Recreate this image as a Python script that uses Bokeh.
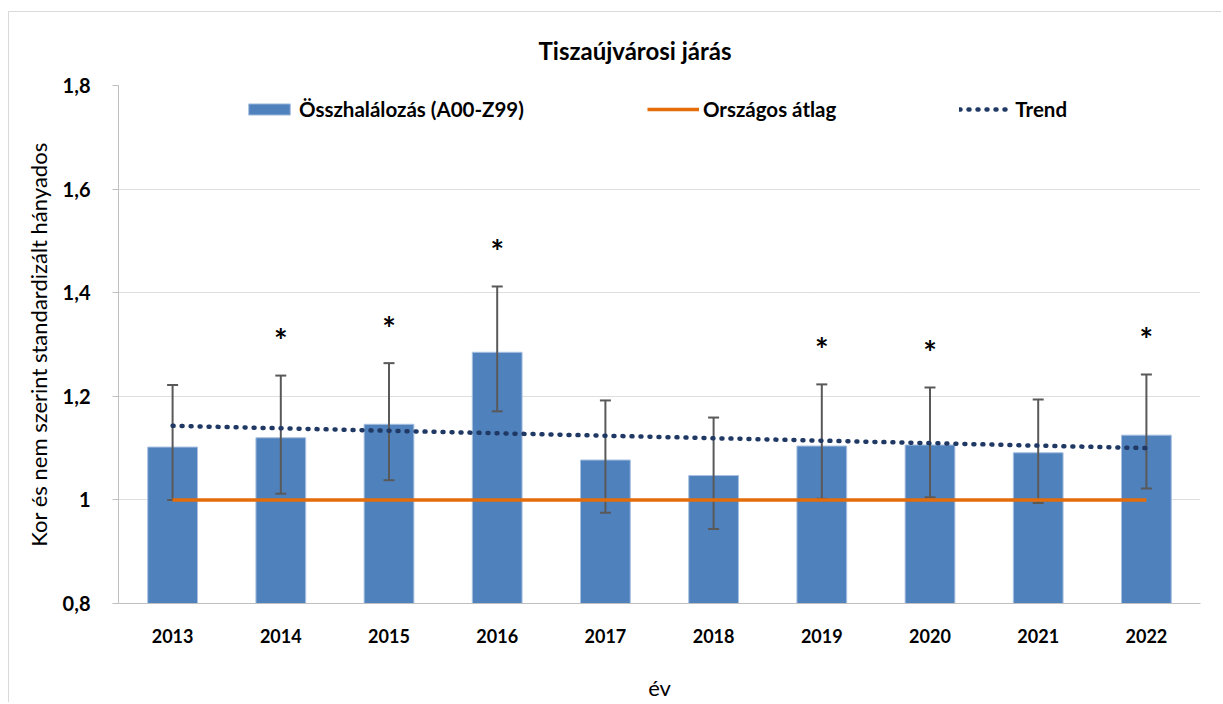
from bokeh.plotting import figure
from bokeh.models import (ColumnDataSource, Legend, LegendItem,
                          FixedTicker, CustomJSTickFormatter)
from bokeh.embed import file_html
from bokeh.resources import INLINE
from bokeh.core.properties import value

# ---- data ----
years = ["2013", "2014", "2015", "2016", "2017", "2018", "2019", "2020", "2021", "2022"]
values = [1.102, 1.120, 1.146, 1.285, 1.077, 1.047, 1.104, 1.106, 1.091, 1.125]
upper = [1.222, 1.240, 1.264, 1.412, 1.192, 1.159, 1.223, 1.217, 1.194, 1.242]
lower = [1.000, 1.012, 1.038, 1.171, 0.975, 0.944, 1.002, 1.005, 0.994, 1.022]
significant = [False, True, True, True, False, False, True, True, False, True]
national_avg = [1.0] * 10
trend_years = ["2013", "2022"]
trend_values = [1.143, 1.100]
y_ticks = [0.8, 1.0, 1.2, 1.4, 1.6, 1.8]

title_text = "Tiszaújvárosi járás"
y_label = "Kor és nem szerint standardizált hányados"
x_label = "év"
legend_labels = ["Összhalálozás (A00-Z99)", "Országos átlag", "Trend"]

FONT = "Lato"

p = figure(x_range=years, y_range=(0.8, 1.8), width=1213, height=691,
           output_backend="svg", toolbar_location=None,
           min_border_left=109, min_border_right=22,
           min_border_top=73, min_border_bottom=95)
p.outline_line_color = None
p.styles = {"margin-left": "8px", "margin-top": "11px",
            "border-left": "1px solid #D9D9D9", "border-top": "1px solid #D9D9D9"}

p.title.text = title_text
p.title.align = "left"
p.title.offset = 420
p.title.text_font = FONT
p.title.text_font_style = "bold"
p.title.text_font_size = "24px"
p.title.text_color = "#000000"
p.title.vertical_align = "top"
p.title.standoff = 38

src = ColumnDataSource(dict(year=years, value=values, upper=upper,
                            lower=lower, avg=national_avg))

bars = p.vbar(x="year", top="value", bottom=0.8, width=0.46, source=src,
              fill_color="#4F81BD", line_color="#A9C1E0", line_width=1)

# error bars
p.segment(x0="year", y0="lower", x1="year", y1="upper", source=src,
          line_color="#595959", line_width=2)
p.scatter(x="year", y="upper", source=src, marker="dash", size=11,
          line_color="#595959", line_width=2)
p.scatter(x="year", y="lower", source=src, marker="dash", size=11,
          line_color="#595959", line_width=2)

avg_line = p.line(x="year", y="avg", source=src, line_color="#E46C0A",
                  line_width=3.5)
trend_line = p.line(x=trend_years, y=trend_values, line_color="#1F3864",
                    line_width=4.5, line_dash="1 8", line_cap="round")

star_years = [y for y, s in zip(years, significant) if s]
star_y = [u for u, s in zip(upper, significant) if s]
p.text(x=star_years, y=star_y, text=["*"] * len(star_years), y_offset=-35,
       text_font=value(FONT), text_font_style="bold", text_font_size="32px",
       text_align="center", text_baseline="middle", text_color="#000000")

# axes
p.xgrid.grid_line_color = None
p.ygrid.grid_line_color = "#BDBDBD"
p.ygrid.grid_line_dash = "1 1"
p.ygrid.grid_line_width = 1

p.yaxis.ticker = FixedTicker(ticks=y_ticks)
p.yaxis.formatter = CustomJSTickFormatter(
    code="const s = (Math.round(tick*10)/10).toString(); return s.replace('.', ',');")
for ax in (p.xaxis[0], p.yaxis[0]):
    ax.axis_line_color = "#BFBFBF"
    ax.axis_line_width = 1
    ax.major_label_text_font = FONT
    ax.major_label_text_font_style = "bold"
    ax.major_label_text_font_size = "18px"
    ax.major_label_text_color = "#000000"
    ax.minor_tick_line_color = None
    ax.axis_label_text_font = FONT
    ax.axis_label_text_font_style = "normal"
    ax.axis_label_text_font_size = "22px"
    ax.axis_label_text_color = "#000000"

p.yaxis.major_label_text_font_size = "20px"
p.yaxis.major_tick_line_color = "#BFBFBF"
p.yaxis.major_tick_out = 6
p.yaxis.major_tick_in = 0
p.yaxis.major_label_standoff = 22
p.yaxis.axis_label = y_label
p.yaxis.axis_label_standoff = 8

p.xaxis.major_tick_line_color = None
p.xaxis.major_label_standoff = 19
p.xaxis.axis_label = x_label
p.xaxis.axis_label_standoff = 28

legend = Legend(items=[LegendItem(label=legend_labels[0], renderers=[bars]),
                       LegendItem(label=legend_labels[1], renderers=[avg_line]),
                       LegendItem(label=legend_labels[2], renderers=[trend_line])],
                orientation="horizontal", location=(125, 482), spacing=123,
                padding=0, margin=0, border_line_color=None,
                background_fill_alpha=0, glyph_width=52, glyph_height=14,
                label_standoff=4, label_text_font=FONT,
                label_text_font_style="bold", label_text_font_size="20.5px",
                label_text_color="#000000")
p.add_layout(legend)

open("out.html", "w").write(file_html(p, INLINE))
